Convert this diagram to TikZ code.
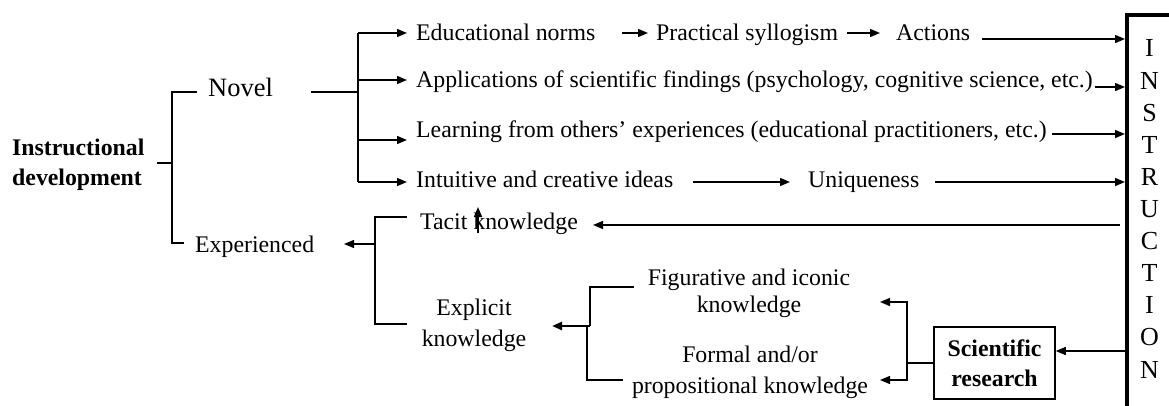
\documentclass[tikz,border=0pt]{standalone}
\usepackage{fontspec}
\setmainfont{Liberation Serif}
\usetikzlibrary{arrows.meta}
\newcommand\fs{\fontsize{23.8}{31}\selectfont}
\begin{document}
\begin{tikzpicture}[x=1pt,y=-1pt,
  txt/.style={inner sep=0pt,anchor=base west,font=\fs},
  arr/.style={-{Triangle[length=10pt,width=8pt]},line width=1.4pt},
  thinl/.style={line width=1.6pt},
  thickl/.style={line width=2.6pt}]
\useasboundingbox (0,0) rectangle (1169,406);

% left part
\node[font=\bfseries\fontsize{23.8}{29.5}\selectfont, align=left, inner sep=0pt, anchor=west] (instr) at (12,165) {Instructional\\development};
\node[txt, font=\fontsize{26.5}{30}\selectfont] (novel) at (208,97) {Novel};
\node[txt] (exp) at (195,252) {Experienced};

\coordinate (s0) at (157,163);
\coordinate (s1) at (172,163);
\coordinate (nt) at (197,92);
\coordinate (eb) at (184,243);
\draw[thickl] (s0) -- (s1);
\draw[thickl] (nt) -| (s1) |- (eb);

% novel fan-out
\coordinate (n0) at (311,92);
\coordinate (n1) at (358,92);
\coordinate (f1) at (358,33);
\coordinate (f2) at (358,80);
\coordinate (f3) at (358,140);
\coordinate (f4) at (358,182);
\draw[thickl] (n0) -- (n1);
\draw[thickl] (f1) -- (f4);

\node[txt] (norms) at (416,41) {Educational norms};
\node[txt] (prac) at (656,41) {Practical syllogism};
\node[txt] (act) at (896,41) {Actions};
\node[txt] (app) at (416,88) {Applications of scientific findings (psychology, cognitive science, etc.)};
\node[txt] (learn) at (416,138) {Learning from others’ experiences (educational practitioners, etc.)};
\node[txt] (intu) at (416,187) {Intuitive and creative ideas};
\node[txt] (uniq) at (808,187) {Uniqueness};

\draw[arr] (f1) -- (407,33);
\draw[arr] (f2) -- (407,80);
\draw[arr] (f3) -- (407,140);
\draw[arr] (f4) -- (407,182);

\draw[arr] (622,33) -- (648,33);
\draw[arr] (847,33) -- (880,33);

% INSTRUCTION box
\coordinate (ib) at (1127,406);
\coordinate (it) at (1127,15);
\draw[line width=3.8pt] (ib) -- (it) -- (1172,15);
\foreach \l [count=\i] in {I,N,S,T,R,U,C,T,I,O,N}
  \node[inner sep=0pt, anchor=base, font=\fontsize{26}{30}\selectfont] (L\i) at (1149.5,{57+32.1*(\i-1)}) {\l};

\coordinate (r1) at (1125,39);
\coordinate (r2) at (1125,87);
\coordinate (r3) at (1125,134);
\coordinate (r4) at (1125,182);
\draw[arr] (982,39) -- (r1);
\draw[arr] (1095,87) -- (r2);
\draw[arr] (1052,134) -- (r3);
\draw[arr] (693,182) -- (790,182);
\draw[arr] (935,182) -- (r4);

% experienced side
\node[txt] (tacit) at (420,229) {Tacit knowledge};
\coordinate (tr) at (1120,225);
\draw[arr] (tr) -- (593,225);
\draw[arr] (478,233) -- (478,207);

\node[font=\fontsize{23.8}{31}\selectfont, align=center, inner sep=0pt] (expl) at (474,325) {Explicit\\knowledge};

\coordinate (e1) at (407,217);
\coordinate (e2) at (375,217);
\coordinate (e3) at (375,324);
\coordinate (e4) at (407,324);
\draw[thinl] (e1) -- (e2) -- (e3) -- (e4);
\draw[arr] (375,244) -- (344,244);

% explicit bracket
\draw[thinl] (634,287) -- (590,287) -- (590,326);
\draw[thinl] (587,326) -- (587,380) -- (623,380);
\draw[-{Triangle[length=10pt,width=8pt]},line width=2.6pt] (590,326) -- (552,326);

\node[font=\fontsize{23.8}{27}\selectfont, align=center, inner sep=0pt] (fig) at (749,293) {Figurative and iconic\\knowledge};
\node[font=\fontsize{23.8}{31}\selectfont, align=center, inner sep=0pt] (form) at (750,372) {Formal and/or\\propositional knowledge};

% scientific research
\node[draw, line width=1.5pt, minimum width=121pt, minimum height=72pt, inner sep=0pt,
  font=\bfseries\fontsize{23.8}{30}\selectfont, align=center] (sci) at (994.5,363) {Scientific\\research};
\coordinate (sv) at (907,363);
\draw[thinl] (sci.west |- sv) -- (sv);
\draw[arr] (907,302) -- (880,302);
\draw[arr] (907,380) -- (880,380);
\draw[thinl] (907,301) -- (907,381);
\coordinate (sr) at (1125,351);
\draw[arr] (sr) -- (sci.east |- sr);
\end{tikzpicture}
\end{document}
